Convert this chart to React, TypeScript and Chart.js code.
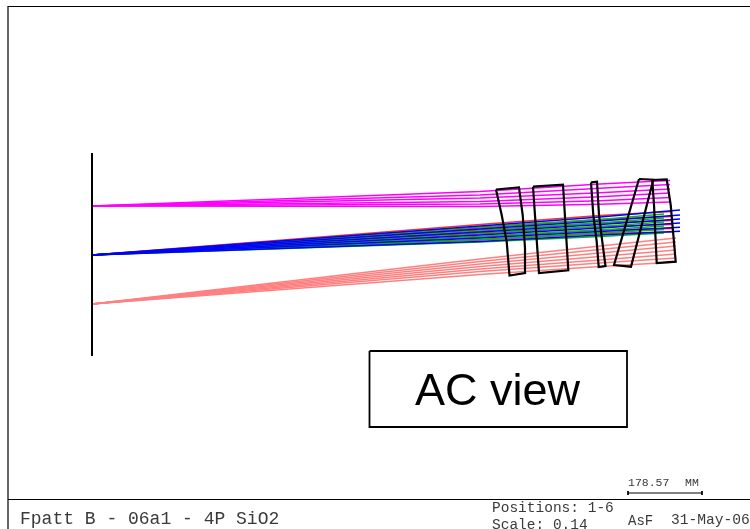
import { useEffect, useRef } from "react";
import { Chart, registerables } from "chart.js";

Chart.register(...registerables);

type Pt = [number, number];

const rayStations = [92, 480, 600];
const magentaEndX = 670;
const pinkEndX = 676;
const blueEndX = 680;
const greenEndX = 664;
const redEndX = 672;

const fieldPointsY = { magenta: 206, blue: 255, pink: 304 };

const magentaAt480 = [191.5, 195, 198, 201.5, 204, 206.5];
const magentaAt600 = [184, 188.3, 192.7, 196.7, 200.7, 204.3];
const magentaEnd = [180.5, 184.5, 189, 193, 197.5, 202];

const pinkAt480 = [259, 261.5, 264, 266.5, 269, 271.5, 274.5];
const pinkAt600 = [246, 249.5, 253, 256.5, 260, 263, 266.5];
const pinkEnd = [238, 242, 246, 250, 254, 258, 262];

const blueAt480 = [226, 229, 232, 235, 238, 241.5];
const blueAt600 = [217, 221, 224.5, 228, 231.5, 235];
const blueEnd = [210, 215, 219, 223, 227.3, 231.3];

const greenAt480 = [227, 230, 233, 236.5, 239.5, 242];
const greenAt600 = [219.5, 223, 226.5, 230, 233, 236.5];
const greenEnd = [214, 218, 222, 226, 229.5, 233];

const redAt480 = [224.5, 228, 231, 234, 237, 240];
const redAt600 = [215.5, 219.5, 223, 226.5, 230, 233.5];
const redEnd = [211.5, 216.5, 220.5, 224.5, 228.5, 232];

const detectorLine: Pt[] = [[92, 153], [92, 356]];

const lens1: Pt[] = [[496, 189.5], [519, 187.5], [522.7, 215], [525, 248], [525, 273], [509.5, 275.5], [506.7, 241.7], [501.7, 215], [496, 189.5]];
const lens2: Pt[] = [[533, 186.7], [563, 184.7], [568.3, 270.3], [539, 273], [533, 186.7]];
const lens3: Pt[] = [[591, 182.3], [597, 181.7], [599, 215], [602.3, 241.7], [605.5, 266], [598.7, 267], [596.7, 241.7], [593.3, 215], [591, 182.3]];
const lens4: Pt[] = [[639, 179], [653.3, 179.7], [631, 266.7], [614, 265], [639, 179]];
const lens5: Pt[] = [[652.3, 180], [666.7, 179.3], [670.7, 205], [675.7, 261.7], [656.7, 263], [654, 205], [652.3, 180]];
const lenses = [lens1, lens2, lens3, lens4, lens5];

const frameTopLeft: Pt[] = [[8, 499], [8, 6.5], [750, 6.5]];
const frameBottom: Pt[] = [[8, 499.5], [750, 499.5]];
const frameFoot: Pt[] = [[8, 499], [8, 529]];
const labelBox: Pt[] = [[369.5, 351], [627, 351], [627, 427], [369.5, 427], [369.5, 351]];
const scaleBar: Pt[] = [[628, 493], [702, 493]];
const scaleTicksLeft: Pt[] = [[628, 491], [628, 495]];
const scaleTicksRight: Pt[] = [[702, 491], [702, 495]];

const titleText = "Fpatt B - 06a1 - 4P SiO2";
const positionsText = "Positions: 1-6";
const scaleText = "Scale: 0.14";
const authorText = "AsF";
const dateText = "31-May-06";
const scaleLengthText = "178.57";
const scaleUnitText = "MM";
const viewText = "AC view";

const MONO = '"Liberation Mono", monospace';
const GREY = "#3a3a3a";

const labels: { text: string; x: number; y: number; font: string; color: string }[] = [
  { text: titleText, x: 20, y: 524, font: `18px ${MONO}`, color: GREY },
  { text: positionsText, x: 492, y: 512, font: `14.5px ${MONO}`, color: GREY },
  { text: scaleText, x: 492, y: 529, font: `14.5px ${MONO}`, color: GREY },
  { text: authorText, x: 628, y: 525, font: `14px ${MONO}`, color: GREY },
  { text: dateText, x: 671, y: 524, font: `14.6px ${MONO}`, color: GREY },
  { text: scaleLengthText, x: 628, y: 486, font: `11.5px ${MONO}`, color: GREY },
  { text: scaleUnitText, x: 685, y: 486, font: `11.5px ${MONO}`, color: GREY },
  { text: viewText, x: 415, y: 405, font: '45px "Liberation Sans", Arial, sans-serif', color: "#000000" },
];

const ray = (startY: number, a: number, b: number, endX: number, endY: number) => [
  { x: rayStations[0], y: startY },
  { x: rayStations[1], y: a },
  { x: rayStations[2], y: b },
  { x: endX, y: endY },
];

const bundle = (startY: number, as: number[], bs: number[], endX: number, ends: number[], color: string) =>
  ends.map((e, i) => ({
    data: ray(startY, as[i], bs[i], endX, e),
    borderColor: color,
    borderWidth: 1.6,
    showLine: true,
    pointRadius: 0,
    tension: 0,
  }));

const poly = (pts: Pt[], width: number, color = "#000000") => ({
  data: pts.map(([x, y]) => ({ x, y })),
  borderColor: color,
  borderWidth: width,
  showLine: true,
  pointRadius: 0,
  tension: 0,
});

const textPlugin = {
  id: "drawingText",
  afterDatasetsDraw(chart: Chart) {
    const { ctx, scales } = chart;
    ctx.save();
    ctx.textBaseline = "alphabetic";
    ctx.textAlign = "left";
    for (const l of labels) {
      ctx.fillStyle = l.color;
      ctx.font = l.font;
      ctx.fillText(l.text, scales.x.getPixelForValue(l.x), scales.y.getPixelForValue(l.y));
    }
    ctx.restore();
  },
};

export default function App() {
  const ref = useRef<HTMLCanvasElement>(null);
  useEffect(() => {
    if (!ref.current) return;
    const chart = new Chart(ref.current, {
      type: "scatter",
      data: {
        // Chart.js paints the first dataset last, so the topmost marks come first.
        datasets: [
          poly(frameTopLeft, 1.2),
          poly(frameBottom, 1.2),
          poly(frameFoot, 1.2),
          poly(labelBox, 1.8),
          poly(scaleBar, 1),
          poly(scaleTicksLeft, 1),
          poly(scaleTicksRight, 1),
          poly(detectorLine, 2),
          ...lenses.map((l) => poly(l, 2.2)),
          ...bundle(fieldPointsY.blue, blueAt480, blueAt600, blueEndX, blueEnd, "#0000ff"),
          ...bundle(fieldPointsY.blue, greenAt480, greenAt600, greenEndX, greenEnd, "#00c000"),
          ...bundle(fieldPointsY.blue, redAt480, redAt600, redEndX, redEnd, "#ff3030"),
          ...bundle(fieldPointsY.pink, pinkAt480, pinkAt600, pinkEndX, pinkEnd, "#ff8080"),
          ...bundle(fieldPointsY.magenta, magentaAt480, magentaAt600, magentaEndX, magentaEnd, "#ff00ff"),
        ] as any,
      },
      options: {
        animation: false,
        responsive: false,
        layout: { padding: 0 },
        clip: false as any,
        plugins: { legend: { display: false }, tooltip: { enabled: false }, title: { display: false } },
        scales: {
          x: { type: "linear", min: 0, max: 750, display: false },
          y: { type: "linear", min: 0, max: 529, reverse: true, display: false },
        },
      },
      plugins: [textPlugin],
    });
    return () => chart.destroy();
  }, []);
  return (
    <canvas
      ref={ref}
      width={750}
      height={529}
      style={{ position: "absolute", left: 0, top: 0, width: 750, height: 529, background: "#ffffff" }}
    />
  );
}
